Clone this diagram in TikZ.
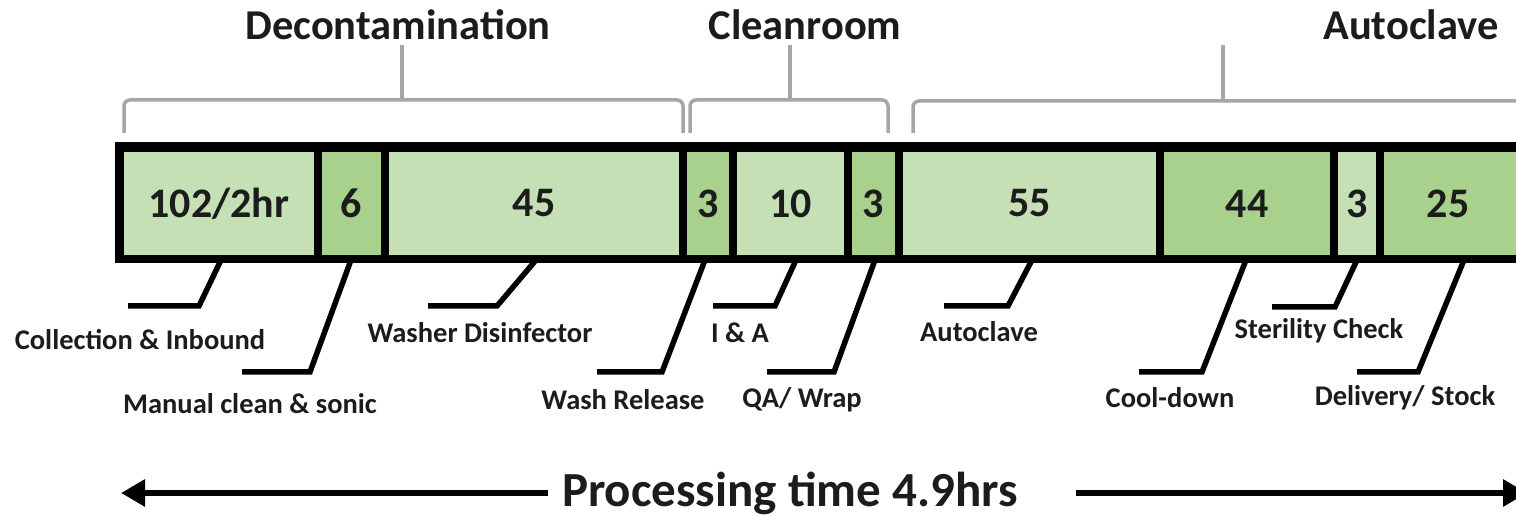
\documentclass[tikz,border=0pt]{standalone}
\usepackage{fontspec}
\setmainfont{Carlito}
\usetikzlibrary{arrows.meta}
\definecolor{lg}{HTML}{C5E0B4}
\definecolor{dg}{HTML}{A9D18E}
\definecolor{bracegray}{HTML}{A6A6A6}
\definecolor{ink}{HTML}{1C1C1C}
\tikzset{
  cell/.style={rectangle, inner sep=0pt, minimum height=103pt, font=\fontsize{42}{48}\selectfont\bfseries, text=ink},
  title/.style={inner sep=0pt, font=\fontsize{42.5}{50}\selectfont\bfseries, text=ink},
  lbl/.style={inner sep=0pt, font=\fontsize{28.5}{34}\selectfont\bfseries, text=ink},
  leader/.style={line width=5.5pt, line join=miter},
  bracepath/.style={draw=bracegray, line width=3.5pt, rounded corners=6pt},
  bigarrow/.style={line width=6.5pt, -{Triangle[length=24pt,width=26pt]}},
}
\begin{document}
\begin{tikzpicture}[x=1pt,y=-1pt]
\clip (0,0) rectangle (1516,521);
\fill[white] (0,0) rectangle (1516,521);
% titles
\node[title] (tdec) at (398,25) {Decontamination};
\node[title] (tcle) at (805,25) {Cleanroom};
\node[title] (taut) at (1411,25) {Autoclave};
% braces
\draw[bracepath] (124,133) |- (683,100) -- (683,133);
\draw[draw=bracegray, line width=3.5pt] (402,100) -- (402,45);
\draw[bracepath] (690,133) |- (888,100) -- (888,133);
\draw[draw=bracegray, line width=3.5pt] (790,100) -- (790,45);
\draw[bracepath] (913,133) |- (1540,101);
\draw[draw=bracegray, line width=3.5pt] (1223,101) -- (1223,45);
% bar
\fill[black] (115,142) rectangle (1540,263);
\node[cell, fill=lg, minimum width=190pt] (c1) at (219,203.5) {102/2hr};
\node[cell, fill=dg, minimum width=59pt] (c2) at (351.5,203.5) {6};
\node[cell, fill=lg, minimum width=290pt] (c3) at (534,203.5) {45};
\node[cell, fill=dg, minimum width=42pt] (c4) at (708,203.5) {3};
\node[cell, fill=lg, minimum width=107pt] (c5) at (790.5,203.5) {10};
\node[cell, fill=dg, minimum width=43pt] (c6) at (873.5,203.5) {3};
\node[cell, fill=lg, minimum width=253pt] (c7) at (1029.5,203.5) {55};
\node[cell, fill=dg, minimum width=166pt] (c8) at (1247,203.5) {44};
\node[cell, fill=lg, minimum width=38pt] (c9) at (1357,203.5) {3};
\node[cell, fill=dg, minimum width=160pt] (c10) at (1464,203.5) {};
\node[cell] (n25) at (1448,203.5) {25};
% labels
\node[lbl] (l1) at (140,340) {Collection \& Inbound};
\node[lbl] (l2) at (250,404) {Manual clean \& sonic};
\node[lbl] (l3) at (480,333) {Washer Disinfector};
\node[lbl] (l4) at (623,400) {Wash Release};
\node[lbl] (l5) at (740,333) {I \& A};
\node[lbl] (l6) at (802,400) {QA/ Wrap};
\node[lbl] (l7) at (979,332) {Autoclave};
\node[lbl] (l8) at (1170,398) {Cool-down};
\node[lbl] (l9) at (1319,331) {Sterility Check};
\node[lbl] (l10) at (1405,398) {Delivery/ Stock};
% leader coordinates
\coordinate (a1) at (221,260); \coordinate (k1) at (199,306); \coordinate (e1) at (128,306);
\coordinate (a2) at (351,260); \coordinate (k2) at (310,372); \coordinate (e2) at (242,372);
\coordinate (a3) at (536,260); \coordinate (k3) at (497,306); \coordinate (e3) at (428,306);
\coordinate (a4) at (705,260); \coordinate (k4) at (662,372); \coordinate (e4) at (597,372);
\coordinate (a5) at (796,260); \coordinate (k5) at (775,306); \coordinate (e5) at (713,306);
\coordinate (a6) at (875,260); \coordinate (k6) at (834,372); \coordinate (e6) at (767,372);
\coordinate (a7) at (1032,260); \coordinate (k7) at (1008,306); \coordinate (e7) at (944,306);
\coordinate (a8) at (1246,260); \coordinate (k8) at (1202,372); \coordinate (e8) at (1139,372);
\coordinate (a9) at (1357,260); \coordinate (k9) at (1335,307); \coordinate (e9) at (1272,307);
\coordinate (a10) at (1464,260); \coordinate (k10) at (1418,372); \coordinate (e10) at (1357,372);
\foreach \i in {1,...,10}{\draw[leader] (a\i) -- (k\i) -- (e\i);}
% bottom
\node[inner sep=0pt, font=\fontsize{49}{58}\selectfont\bfseries, text=ink] (ptime) at (790,493) {Processing time 4.9hrs};
\coordinate (als) at (548,493); \coordinate (alt) at (121,493);
\coordinate (ars) at (1076,493); \coordinate (art) at (1527,493);
\draw[bigarrow] (als) -- (alt);
\draw[bigarrow] (ars) -- (art);
\end{tikzpicture}
\end{document}
